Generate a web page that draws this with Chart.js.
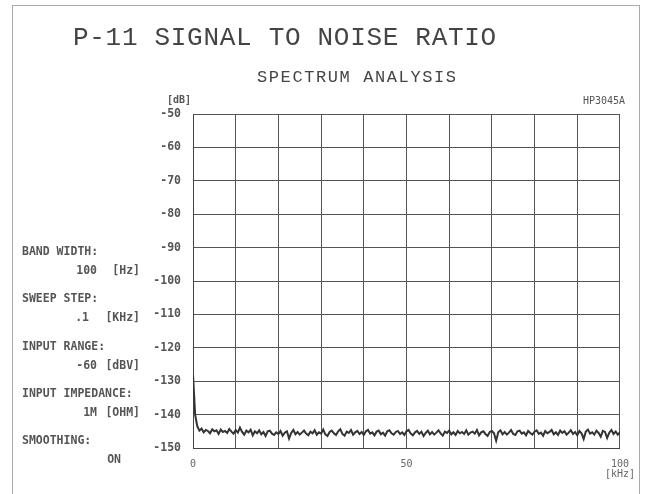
<!DOCTYPE html>
<html>
<head>
<meta charset="utf-8">
<script src="https://cdn.jsdelivr.net/npm/chart.js@4/dist/chart.umd.min.js"></script>
<style>
  html, body { margin: 0; padding: 0; background: #fff; }
  #wrap { width: 646px; height: 494px; position: relative; }
</style>
</head>
<body>
<div id="wrap"><canvas id="myChart"></canvas></div>
<script>
// sweep: 0..100 kHz, one reading every 0.5 kHz
var sweepStart = 0;
var sweepStep = 0.5;

// noise level [dB]
var levels = [
  -128, -140, -143.5, -144.8, -144.2, -145.3, -144.6, -144.9, -145.6, -144.4, -145.0, -144.7, -145.8, -144.5, -145.2, -144.9, -145.5, -144.3, -145.1, -145.7,
  -144.6, -145.4, -143.9, -145.2, -146.0, -144.8, -145.3, -144.5, -146.2, -145.0, -145.6, -144.7, -145.9, -145.2, -146.4, -145.0, -144.8, -145.7, -146.1, -145.3,
  -145.8, -144.9, -146.3, -145.4, -145.0, -147.2, -145.5, -144.6, -145.9, -145.2, -146.0, -145.4, -144.8, -145.7, -146.2, -145.1, -145.6, -144.7, -146.0, -145.3,
  -145.7, -144.5, -145.9, -146.4, -145.2, -144.8, -145.6, -146.1, -145.0, -144.4, -145.8, -146.3, -145.1, -145.5, -144.6, -146.0, -145.3, -144.9, -145.8, -145.2,
  -146.1, -145.0, -144.6, -145.7, -145.3, -146.2, -145.1, -144.8, -145.9, -145.4, -146.3, -145.0, -144.7, -145.6, -146.0, -145.2, -144.9, -145.8, -145.3, -146.1,
  -145.0, -144.6, -145.7, -146.2, -145.3, -144.9, -145.8, -145.1, -146.4, -145.5, -144.8, -145.9, -145.2, -146.0, -145.4, -144.7, -145.6, -146.3, -145.1, -145.5,
  -144.8, -145.9, -145.3, -146.1, -144.9, -145.6, -145.2, -145.8, -144.7, -146.0, -145.4, -145.1, -145.7, -144.6, -146.2, -145.3, -145.0, -145.8, -146.4, -145.2,
  -144.9, -145.6, -147.8, -145.3, -144.7, -145.9, -145.2, -146.0, -145.4, -144.6, -145.8, -146.1, -145.0, -144.8, -145.7, -145.3, -146.2, -144.9, -145.5, -146.0,
  -145.1, -144.7, -145.8, -145.4, -146.3, -144.9, -145.6, -145.2, -144.6, -145.9, -145.3, -146.1, -144.8, -145.5, -145.0, -146.0, -145.4, -144.7, -145.8, -145.2,
  -146.2, -144.9, -145.6, -147.3, -145.1, -144.5, -145.7, -145.3, -146.0, -144.8, -145.5, -146.6, -144.9, -145.2, -147.0, -145.4, -144.6, -145.8, -145.1, -146.0,
  -145.3
];

var xLabels = { 0: '0', 50: '50', 100: ['100', '[kHz]'] };

// heading, value, unit, value right edge
var settings = [
  ['BAND WIDTH:', '100', '[Hz]', 97],
  ['SWEEP STEP:', '.1', '[KHz]', 89],
  ['INPUT RANGE:', '-60', '[dBV]', 97],
  ['INPUT IMPEDANCE:', '1M', '[OHM]', 97],
  ['SMOOTHING:', 'ON', '', 121]
];

var points = levels.map(function(v, i) {
  return { x: sweepStart + i * sweepStep, y: v };
});

var mono = '"DejaVu Sans Mono", monospace';

var sheet = {
  id: 'sheet',
  afterDraw: function(chart) {
    var c = chart.ctx;
    c.save();
    // outer frame
    c.strokeStyle = '#aaa';
    c.lineWidth = 1;
    c.strokeRect(12.5, 5.5, 627, 520);

    c.fillStyle = '#444';
    c.textBaseline = 'middle';
    c.textAlign = 'left';

    c.font = '26px "Liberation Mono", monospace';
    c.letterSpacing = '0.7px';
    c.fillText('P-11 SIGNAL TO NOISE RATIO', 73, 38);

    c.font = '17px "Liberation Mono", monospace';
    c.letterSpacing = '1.6px';
    c.fillText('SPECTRUM ANALYSIS', 257, 77);

    c.letterSpacing = '0px';
    c.font = 'bold 10px ' + mono;
    c.fillStyle = '#555';
    c.fillText('[dB]', 167, 100);
    c.font = '10px ' + mono;
    c.fillText('HP3045A', 583, 101);

    c.font = 'bold 11.5px ' + mono;
    var y0 = 252;
    settings.forEach(function(s, i) {
      var y = y0 + i * 47.3;
      c.textAlign = 'left';
      c.fillText(s[0], 22, y);
      c.textAlign = 'right';
      c.fillText(s[1], s[3], y + 19);
      if (s[2]) c.fillText(s[2], 140, y + 19);
    });
    c.restore();
  }
};

var ctx = document.getElementById('myChart').getContext('2d');
var myChart = new Chart(ctx, {
  type: 'line',
  data: {
    datasets: [{
      label: 'noise',
      data: points,
      borderColor: '#333',
      borderWidth: 2,
      pointRadius: 0,
      tension: 0,
      fill: false
    }]
  },
  options: {
    responsive: true,
    maintainAspectRatio: false,
    animation: false,
    layout: { padding: { top: 114, right: 24, left: 0, bottom: 0 } },
    plugins: {
      legend: { display: false },
      tooltip: { enabled: false }
    },
    scales: {
      x: {
        type: 'linear',
        min: 0,
        max: 100,
        afterFit: function(s) { s.height = 46; },
        grid: { color: '#555', lineWidth: 1, drawTicks: false },
        border: { color: '#444' },
        ticks: {
          stepSize: 10,
          autoSkip: false,
          maxRotation: 0,
          padding: 11,
          color: '#666',
          font: { family: 'DejaVu Sans Mono', size: 10, lineHeight: 1.05 },
          callback: function(v) { return xLabels[v] !== undefined ? xLabels[v] : ''; }
        }
      },
      y: {
        min: -150,
        max: -50,
        afterFit: function(s) { s.width = 193; },
        grid: { color: '#555', lineWidth: 1, drawTicks: false },
        border: { color: '#444' },
        ticks: {
          stepSize: 10,
          padding: 12,
          color: '#555',
          font: { family: 'DejaVu Sans Mono', size: 11.5, weight: 'bold' }
        }
      }
    }
  },
  plugins: [sheet]
});
</script>
</body>
</html>
